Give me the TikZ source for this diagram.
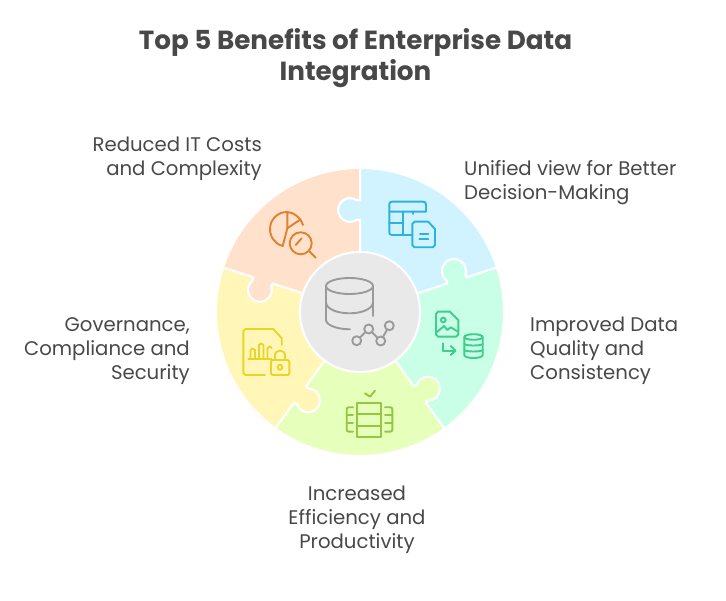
\documentclass[tikz,border=0pt]{standalone}
\usepackage{fontspec}
\setmainfont{Poppins}
\usetikzlibrary{positioning}
\definecolor{titlegray}{HTML}{484848}
\definecolor{hubfill}{HTML}{E9E9E9}
\definecolor{hubline}{HTML}{9A9A9A}
\definecolor{blueFill}{HTML}{D0F3FF}
\definecolor{mintFill}{HTML}{C8FFE6}
\definecolor{limeFill}{HTML}{E6FFBA}
\definecolor{yellowFill}{HTML}{FFF6B8}
\definecolor{orangeFill}{HTML}{FFE1CC}
\definecolor{blueLine}{HTML}{2BB3E0}
\definecolor{mintLine}{HTML}{3FCC8C}
\definecolor{limeLine}{HTML}{95C63F}
\definecolor{yellowLine}{HTML}{EAD526}
\definecolor{orangeLine}{HTML}{E0812F}
\tikzset{
    label/.style = {text=titlegray, font=\fontsize{19.7}{24}\selectfont, inner sep=0pt},
    heading/.style = {text=titlegray, font=\bfseries\fontsize{26.2}{31}\selectfont, align=center, inner sep=0pt},
    piece/.style = {draw=white, line width=2pt, line join=round},
    icon/.style = {line width=1.9pt, line cap=round, line join=round},
    dot/.style = {circle, draw=hubline, icon, inner sep=0pt, minimum size=9pt}
}
\begin{document}
\begin{tikzpicture}[x=1pt,y=-1pt]
    \useasboundingbox (0,0) rectangle (726,601);
    % title
    \node [heading,anchor=base] (title) at (355.5,81) {Top 5 Benefits of Enterprise Data\\Integration};
    % puzzle pieces
    \begin{scope}[shift={(360,312)},y=1pt]
        \foreach \ang/\col in {18/blueFill,90/orangeFill,162/yellowFill,234/limeFill,306/mintFill}{
            \begin{scope}[rotate=\ang]
                \draw [piece,fill=\col] (0:60) -- (0:92) -- (1.93:92.25)
                    arc [start angle=215,end angle=-35,radius=12] -- (0:112) -- (0:144)
                    arc [start angle=0,end angle=72,radius=144] -- (72:112) -- (73.59:111.84)
                    arc [start angle=37,end angle=287,radius=12] -- (72:92) -- (72:60)
                    arc [start angle=72,end angle=0,radius=60] -- cycle;
            \end{scope}
        }
    \end{scope}
    \node [circle,fill=hubfill,draw=white,line width=2pt,minimum size=120pt,inner sep=0pt] (hub) at (360,312) {};
    % hub icon
    \begin{scope}[icon,draw=hubline]
        \draw (349.5,286) ellipse [x radius=23.5,y radius=8];
        \draw (326,286) -- (326,320) .. controls (326,325) and (337,329.3) .. (350,329.3);
        \draw (373,286) -- (373,316);
        \draw (326,303) .. controls (327,309) and (337,313.3) .. (349.5,313.3) .. controls (362,313.3) and (372,309) .. (373,303);
        \node [dot] (nodeA) at (356.7,340.7) {};
        \node [dot] (nodeB) at (368.7,329) {};
        \node [dot] (nodeC) at (380.7,341) {};
        \node [dot] (nodeD) at (389.3,325.7) {};
        \draw (nodeA) -- (nodeB);
        \draw (nodeB) -- (nodeC);
        \draw (nodeC) -- (nodeD);
    \end{scope}
    % orange icon
    \begin{scope}[icon,draw=orangeLine]
        \draw (303,225) .. controls (300,217) and (294,212.5) .. (287.3,212) .. controls (277,212) and (270,220) .. (270,229) .. controls (270,237) and (275,244) .. (282.7,246) -- (287.3,228.3) -- (287.3,212);
        \draw (287.3,228.3) -- (300.7,219.3);
        \draw (300.7,243.3) circle [radius=11];
        \draw (295.7,245) -- (301.7,238.3);
        \draw (309,251) -- (315.7,257.7);
    \end{scope}
    % blue icon
    \begin{scope}[icon,draw=blueLine]
        \draw (411.7,235) -- (392,235) .. controls (390,235) and (389.3,234) .. (389.3,232) -- (389.3,204.5) .. controls (389.3,202.5) and (390,201.7) .. (392,201.7) -- (423,201.7) .. controls (425,201.7) and (426,202.5) .. (426,204.5) -- (426,211.7) -- (389.3,211.7);
        \draw (389.3,223.3) -- (403.3,223.3);
        \draw (403.3,211.7) -- (403.3,235);
        \draw (413.3,211.7) -- (413.3,214);
        \draw (412.3,224) -- (412.3,245) -- (414.3,247.3) -- (433,247.3) -- (435,245) -- (435,229) -- (428.3,221.7) -- (414.5,221.7) -- cycle;
        \draw (420,234) -- (428.3,234);
        \draw (419.3,239.3) -- (428.3,239.3);
    \end{scope}
    % mint icon
    \begin{scope}[icon,draw=mintLine]
        \draw (438,311.7) -- (450,311.7) -- (458.3,320) -- (458.3,334.5) -- (456,336.7) -- (438,336.7) -- (436,334.5) -- (436,314) -- cycle;
        \draw (443.3,320) circle [radius=2.4];
        \draw (437,332) -- (444,326) -- (447.3,330) -- (450.7,327.3) -- (458,331.7);
        \draw (443.3,343.3) -- (443.3,350.7) -- (455,350.7);
        \draw (450.7,346) -- (455.5,350.7) -- (450.7,355);
        \draw (473.5,337) ellipse [x radius=9.2,y radius=2.8];
        \draw (464.3,337) -- (464.3,355) .. controls (464.3,357) and (469,358) .. (473.5,358) .. controls (478,358) and (482.7,357) .. (482.7,355) -- (482.7,337);
        \draw (464.3,344) .. controls (466,346) and (481,346) .. (482.7,344);
        \draw (464.3,350) .. controls (466,352) and (481,352) .. (482.7,350);
    \end{scope}
    % lime icon
    \begin{scope}[icon,draw=limeLine]
        \draw (356.7,403.3) rectangle (380.7,436.7);
        \draw (356.7,414) -- (380.7,414);
        \draw (356.7,425.7) -- (380.7,425.7);
        \draw (365,393.3) -- (370,396.7) -- (375,390.7);
        \draw (353,407.3) -- (349,407.3) .. controls (347.5,407.3) and (346.7,408) .. (346.7,409.5) -- (346.7,429.5) .. controls (346.7,431) and (347.5,431.7) .. (349,431.7) -- (353,431.7);
        \draw (346.7,415) -- (353,415);
        \draw (346.7,423.3) -- (353,423.3);
        \draw (385,407.3) -- (390,407.3) .. controls (391.5,407.3) and (392.3,408) .. (392.3,409.5) -- (392.3,429.5) .. controls (392.3,431) and (391.5,431.7) .. (390,431.7) -- (385,431.7);
        \draw (385,415) -- (392.3,415);
        \draw (385,423.3) -- (392.3,423.3);
    \end{scope}
    % yellow icon
    \begin{scope}[icon,draw=yellowLine]
        \draw (281.7,345) -- (281.7,338.3) -- (273.3,329) -- (245.5,329) -- (243.3,331) -- (243.3,373) -- (245.5,375) -- (265,375);
        \draw (248.3,359) -- (271.7,359);
        \draw (250.5,359) -- (250.5,350) .. controls (251,348) and (254,348) .. (255,350) -- (255,359);
        \draw (259,359) -- (259,345) .. controls (259.5,343) and (262.5,343) .. (263.5,345) -- (263.5,359);
        \draw (267.5,359) -- (267.5,348) .. controls (268,346) and (271,346) .. (271.7,348);
        \draw (273,360) -- (287.5,360) .. controls (288.7,360) and (289.3,361) .. (289.3,362) -- (289.3,373) .. controls (289.3,374.2) and (288.7,375) .. (287.5,375) -- (273,375) .. controls (271.8,375) and (271,374.2) .. (271,373) -- (271,362) .. controls (271,361) and (271.8,360) .. (273,360) -- cycle;
        \draw (275,360) -- (275,355.5) .. controls (275,349) and (285,349) .. (285,355.5) -- (285,360);
        \draw (280,367.3) circle [radius=2.4];
    \end{scope}
    % labels
    \node [label,anchor=base east,align=right] (costs) at (262,176) {Reduced IT Costs\\and Complexity};
    \node [label,anchor=base west,align=left] (unified) at (464,200) {Unified view for Better\\Decision-Making};
    \node [label,anchor=base west,align=left] (quality) at (530,380) {Improved Data\\Quality and\\Consistency};
    \node [label,anchor=base east,align=right] (governance) at (190,380) {Governance,\\Compliance and\\Security};
    \node [label,anchor=base,align=center] (efficiency) at (357,548) {Increased\\Efficiency and\\Productivity};
\end{tikzpicture}
\end{document}
